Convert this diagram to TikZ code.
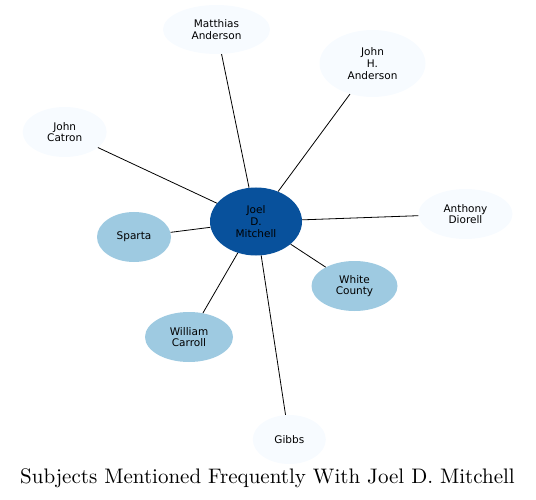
\documentclass[tikz,border=0pt]{standalone}
\usepackage{fontspec}
\newfontfamily\labelfont{DejaVu Sans}
\newfontfamily\titlefont{lmroman10-regular}[Extension=.otf]
\usetikzlibrary{shapes.geometric}
\definecolor{cdark}{HTML}{08519C}
\definecolor{cmid}{HTML}{9ECAE1}
\definecolor{clight}{HTML}{F7FBFF}
\tikzset{
  ent/.style={ellipse, inner sep=0pt, align=center,
    font=\labelfont\fontsize{10.5}{11.7}\selectfont, text=black},
  hub/.style={ent, fill=cdark},
  place/.style={ent, fill=cmid},
  person/.style={ent, fill=clight},
  link/.style={draw=black, line width=0.8pt}
}
\begin{document}
\begin{tikzpicture}[x=1pt,y=-1pt]
\useasboundingbox (0,0) rectangle (536,500);
\node[hub, minimum width=92pt, minimum height=68pt] (joel) at (256,221.5) {Joel\\D.\\Mitchell};
\node[person, minimum width=107pt, minimum height=49pt] (matthias) at (216.5,29.5) {Matthias\\Anderson};
\node[person, minimum width=106pt, minimum height=67pt] (johnh) at (372.5,63.5) {John\\H.\\Anderson};
\node[person, minimum width=84pt, minimum height=50pt] (catron) at (64.7,132) {John\\Catron};
\node[person, minimum width=94pt, minimum height=50pt] (anthony) at (465.5,214) {Anthony\\Diorell};
\node[place, minimum width=74pt, minimum height=50pt] (sparta) at (134,237) {Sparta};
\node[place, minimum width=86pt, minimum height=50pt] (white) at (354.5,286) {White\\County};
\node[place, minimum width=88pt, minimum height=50pt] (william) at (189,337) {William\\Carroll};
\node[person, minimum width=73pt, minimum height=49pt] (gibbs) at (289.3,439.5) {Gibbs};
\draw[link] (joel) -- (matthias);
\draw[link] (joel) -- (johnh);
\draw[link] (joel) -- (catron);
\draw[link] (joel) -- (anthony);
\draw[link] (joel) -- (sparta);
\draw[link] (joel) -- (white);
\draw[link] (joel) -- (william);
\draw[link] (joel) -- (gibbs);
\node[font=\titlefont\fontsize{21}{25}\selectfont, inner sep=0pt, anchor=base] (title) at (267.5,483.3) {Subjects Mentioned Frequently With Joel D. Mitchell};
\end{tikzpicture}
\end{document}
